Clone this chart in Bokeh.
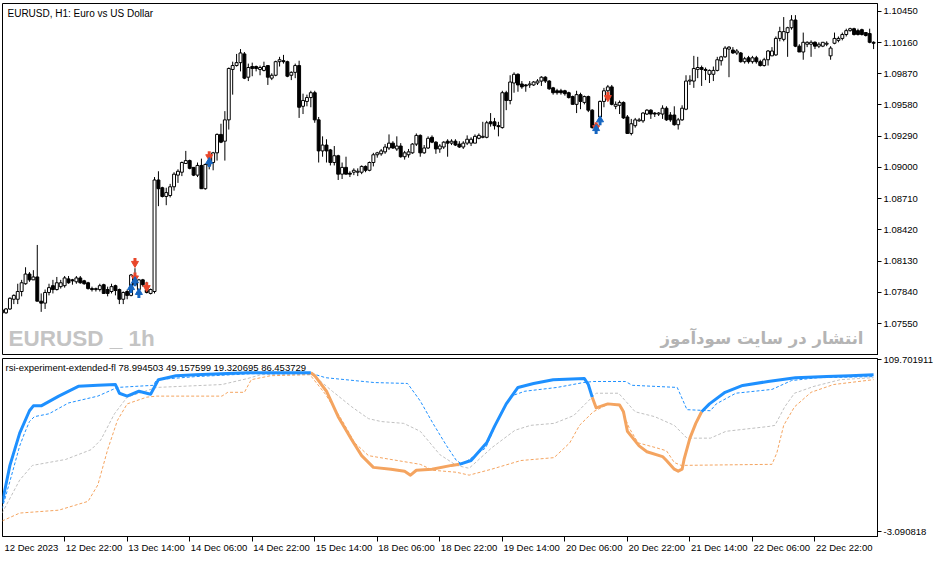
from bokeh.plotting import figure
from bokeh.layouts import column
from bokeh.models import Range1d, FixedTicker, PrintfTickFormatter, Label, ColumnDataSource, LinearAxis
from bokeh.embed import file_html
from bokeh.resources import INLINE

# ---------------- price data (EURUSD H1, bars 0..223) ----------------
open_ = [1.07651,1.07651,1.07687,1.07777,1.07777,1.07849,1.07921,1.08011,1.07957,1.07984,
 1.07759,1.07741,1.07840,1.07903,1.07867,1.07894,1.07903,1.07966,1.07957,1.07939,
 1.07975,1.07948,1.07930,1.07876,1.07867,1.07867,1.07912,1.07867,1.07849,1.07903,
 1.07867,1.07777,1.07849,1.07813,1.07912,1.07867,1.07957,1.07867,1.07831,1.07849,
 1.08884,1.08812,1.08731,1.08740,1.08821,1.08929,1.08956,1.09037,1.09064,1.09001,
 1.08929,1.09019,1.08803,1.09019,1.09046,1.09136,1.09307,1.09244,1.09442,1.09910,
 1.09946,1.09973,1.10054,1.09838,1.09937,1.09937,1.09910,1.09901,1.09946,1.09829,
 1.09856,1.09982,1.09991,1.09982,1.09856,1.09883,1.09946,1.09568,1.09613,1.09649,
 1.09694,1.09442,1.09154,1.09208,1.09163,1.09046,1.09109,1.08938,1.09001,1.08947,
 1.08956,1.08956,1.08956,1.09010,1.08974,1.09046,1.09118,1.09127,1.09145,1.09181,
 1.09226,1.09172,1.09199,1.09100,1.09118,1.09136,1.09217,1.09298,1.09136,1.09181,
 1.09280,1.09235,1.09172,1.09190,1.09244,1.09226,1.09244,1.09217,1.09190,1.09226,
 1.09226,1.09226,1.09271,1.09280,1.09280,1.09424,1.09424,1.09388,1.09370,1.09694,
 1.09622,1.09784,1.09865,1.09775,1.09766,1.09766,1.09766,1.09784,1.09802,1.09838,
 1.09802,1.09739,1.09712,1.09712,1.09712,1.09694,1.09658,1.09586,1.09676,1.09604,
 1.09658,1.09532,1.09361,1.09469,1.09613,1.09712,1.09748,1.09568,1.09577,1.09604,
 1.09469,1.09316,1.09388,1.09433,1.09433,1.09496,1.09532,1.09505,1.09496,1.09496,
 1.09550,1.09487,1.09487,1.09397,1.09442,1.09541,1.09802,1.09802,1.09910,1.09928,
 1.09910,1.09865,1.09865,1.09901,1.09991,1.10027,1.10099,1.10090,1.10063,1.10063,
 1.09982,1.10018,1.09982,1.10018,1.09982,1.09946,1.10000,1.10036,1.10045,1.10198,
 1.10189,1.10252,1.10297,1.10369,1.10126,1.10072,1.10144,1.10144,1.10162,1.10126,
 1.10126,1.10144,1.10036,1.10153,1.10180,1.10198,1.10234,1.10270,1.10288,1.10270,
 1.10279,1.10252,1.10243,1.10162]
high_ = [1.07687,1.07696,1.07795,1.07822,1.07921,1.07957,1.08074,1.08029,1.08047,1.08281,
 1.07831,1.07867,1.07921,1.07957,1.07984,1.07957,1.07993,1.07993,1.07966,1.07993,
 1.07993,1.07957,1.07939,1.07894,1.07885,1.07921,1.07921,1.07894,1.07921,1.07912,
 1.07876,1.07849,1.07867,1.08011,1.08065,1.07966,1.07966,1.07939,1.07876,1.08911,
 1.08965,1.08821,1.08812,1.08848,1.08956,1.08983,1.09055,1.09154,1.09073,1.09001,
 1.09046,1.09082,1.09037,1.09064,1.09145,1.09316,1.09406,1.09523,1.09928,1.09982,
 1.10054,1.10099,1.10072,1.09964,1.09973,1.09946,1.09946,1.09982,1.09946,1.09874,
 1.09991,1.10027,1.10045,1.09991,1.09892,1.09964,1.09991,1.09685,1.09676,1.09712,
 1.09712,1.09469,1.09289,1.09262,1.09172,1.09199,1.09118,1.09046,1.09100,1.08965,
 1.08992,1.08992,1.09019,1.09019,1.09055,1.09136,1.09145,1.09172,1.09217,1.09307,
 1.09244,1.09289,1.09226,1.09154,1.09172,1.09226,1.09316,1.09307,1.09208,1.09289,
 1.09298,1.09244,1.09217,1.09244,1.09262,1.09262,1.09262,1.09244,1.09244,1.09298,
 1.09280,1.09307,1.09316,1.09424,1.09433,1.09505,1.09460,1.09424,1.09712,1.09712,
 1.09856,1.09883,1.09874,1.09802,1.09775,1.09802,1.09802,1.09820,1.09847,1.09847,
 1.09811,1.09748,1.09730,1.09730,1.09721,1.09703,1.09667,1.09712,1.09694,1.09667,
 1.09667,1.09541,1.09406,1.09622,1.09739,1.09766,1.09766,1.09613,1.09622,1.09613,
 1.09487,1.09451,1.09460,1.09460,1.09514,1.09541,1.09541,1.09514,1.09514,1.09577,
 1.09568,1.09514,1.09568,1.09460,1.09577,1.09856,1.09856,1.10036,1.10027,1.09946,
 1.09928,1.09910,1.09937,1.10027,1.10036,1.10126,1.10126,1.10117,1.10099,1.10072,
 1.10027,1.10036,1.10036,1.10036,1.10000,1.10018,1.10090,1.10117,1.10216,1.10306,
 1.10396,1.10306,1.10414,1.10414,1.10144,1.10252,1.10171,1.10180,1.10171,1.10162,
 1.10162,1.10171,1.10126,1.10252,1.10216,1.10252,1.10288,1.10297,1.10297,1.10288,
 1.10288,1.10252,1.10288,1.10171]
low_ = [1.07642,1.07642,1.07678,1.07732,1.07732,1.07804,1.07912,1.07939,1.07957,1.07759,
 1.07660,1.07687,1.07813,1.07831,1.07858,1.07876,1.07885,1.07921,1.07912,1.07921,
 1.07921,1.07912,1.07867,1.07849,1.07849,1.07849,1.07831,1.07804,1.07831,1.07813,
 1.07732,1.07732,1.07777,1.07804,1.07903,1.07831,1.07894,1.07831,1.07822,1.07831,
 1.08641,1.08722,1.08650,1.08722,1.08785,1.08857,1.08920,1.09037,1.08983,1.08920,
 1.08911,1.08803,1.08794,1.08983,1.08974,1.09064,1.09226,1.09064,1.09352,1.09676,
 1.09937,1.09892,1.09820,1.09802,1.09847,1.09892,1.09856,1.09892,1.09766,1.09811,
 1.09847,1.09937,1.09964,1.09838,1.09811,1.09829,1.09460,1.09496,1.09568,1.09559,
 1.09415,1.09046,1.09100,1.09046,1.09019,1.09019,1.08884,1.08893,1.08938,1.08911,
 1.08929,1.08920,1.08938,1.08956,1.08965,1.09010,1.09091,1.09109,1.09127,1.09163,
 1.09172,1.09154,1.09091,1.09073,1.09091,1.09127,1.09199,1.09100,1.09127,1.09172,
 1.09226,1.09127,1.09136,1.09172,1.09100,1.09208,1.09199,1.09181,1.09172,1.09208,
 1.09199,1.09226,1.09262,1.09271,1.09271,1.09379,1.09352,1.09289,1.09361,1.09532,
 1.09586,1.09694,1.09703,1.09730,1.09703,1.09739,1.09757,1.09766,1.09757,1.09784,
 1.09721,1.09676,1.09676,1.09676,1.09667,1.09640,1.09586,1.09505,1.09541,1.09586,
 1.09514,1.09361,1.09343,1.09451,1.09559,1.09649,1.09577,1.09541,1.09496,1.09451,
 1.09316,1.09298,1.09370,1.09424,1.09415,1.09487,1.09451,1.09469,1.09478,1.09451,
 1.09433,1.09424,1.09388,1.09352,1.09433,1.09532,1.09766,1.09739,1.09829,1.09757,
 1.09811,1.09784,1.09802,1.09892,1.09946,1.10018,1.09838,1.10054,1.10045,1.09973,
 1.09964,1.09964,1.09964,1.09964,1.09937,1.09937,1.09946,1.10036,1.10036,1.10171,
 1.10171,1.10027,1.10279,1.10117,1.10072,1.10000,1.10117,1.10027,1.10099,1.10108,
 1.10117,1.10126,1.10000,1.10144,1.10162,1.10180,1.10216,1.10261,1.10225,1.10225,
 1.10225,1.10216,1.10153,1.10099]
close_ = [1.07678,1.07687,1.07786,1.07813,1.07849,1.07930,1.08011,1.07957,1.07984,1.07759,
 1.07741,1.07840,1.07885,1.07867,1.07930,1.07930,1.07975,1.07930,1.07948,1.07975,
 1.07930,1.07921,1.07876,1.07867,1.07876,1.07903,1.07831,1.07831,1.07894,1.07858,
 1.07777,1.07840,1.07813,1.08002,1.07984,1.07957,1.07912,1.07840,1.07867,1.08884,
 1.08803,1.08731,1.08767,1.08821,1.08938,1.08965,1.09046,1.09064,1.08992,1.08929,
 1.09019,1.08803,1.09028,1.09046,1.09136,1.09307,1.09235,1.09442,1.09919,1.09946,
 1.09973,1.10063,1.09829,1.09928,1.09919,1.09919,1.09928,1.09937,1.09838,1.09856,
 1.09982,1.10000,1.09982,1.09847,1.09883,1.09946,1.09559,1.09622,1.09649,1.09694,
 1.09442,1.09154,1.09208,1.09154,1.09046,1.09109,1.08938,1.09001,1.08938,1.08938,
 1.08974,1.08965,1.09010,1.08974,1.09046,1.09118,1.09136,1.09154,1.09190,1.09226,
 1.09181,1.09199,1.09100,1.09136,1.09145,1.09217,1.09298,1.09136,1.09181,1.09271,
 1.09235,1.09172,1.09199,1.09235,1.09226,1.09244,1.09208,1.09190,1.09226,1.09262,
 1.09262,1.09289,1.09298,1.09289,1.09415,1.09406,1.09388,1.09379,1.09694,1.09622,
 1.09793,1.09865,1.09766,1.09748,1.09757,1.09775,1.09793,1.09802,1.09838,1.09802,
 1.09730,1.09694,1.09694,1.09694,1.09685,1.09649,1.09586,1.09676,1.09613,1.09658,
 1.09532,1.09370,1.09397,1.09613,1.09712,1.09748,1.09586,1.09586,1.09604,1.09460,
 1.09316,1.09406,1.09442,1.09442,1.09505,1.09532,1.09496,1.09496,1.09505,1.09550,
 1.09442,1.09442,1.09397,1.09442,1.09550,1.09802,1.09811,1.09919,1.09928,1.09910,
 1.09901,1.09901,1.09901,1.10000,1.10027,1.10108,1.10117,1.10063,1.10081,1.09982,
 1.10009,1.09982,1.10018,1.09982,1.09946,1.10000,1.10081,1.10081,1.10198,1.10261,
 1.10261,1.10297,1.10369,1.10126,1.10072,1.10162,1.10162,1.10162,1.10126,1.10144,
 1.10162,1.10153,1.10108,1.10198,1.10198,1.10234,1.10270,1.10288,1.10234,1.10234,
 1.10234,1.10225,1.10162,1.10153]

price_ticks = [1.07550, 1.07840, 1.08130, 1.08420, 1.08710, 1.09000,
               1.09290, 1.09580, 1.09870, 1.10160, 1.10450]

# signal arrows
sell_i = [34, 34, 37, 53, 152, 155]
sell_p = [1.08119, 1.07984, 1.07894, 1.09109, 1.09379, 1.09658]
buy_i = [33, 34, 35, 53, 152, 153]
buy_p = [1.07876, 1.07939, 1.07831, 1.09046, 1.09352, 1.09433]

# time axis
time_ticks = [0, 16, 32, 48, 64, 80, 96, 112, 128, 144, 160, 176, 192, 208]
time_labels = ["12 Dec 2023", "12 Dec 22:00", "13 Dec 14:00", "14 Dec 06:00",
               "14 Dec 22:00", "15 Dec 14:00", "18 Dec 06:00", "18 Dec 22:00",
               "19 Dec 14:00", "20 Dec 06:00", "20 Dec 22:00", "21 Dec 14:00",
               "22 Dec 06:00", "22 Dec 22:00"]

# ---------------- indicator data ----------------
main_i = [0,2,4.5,7,8,10,14.5,19.5,24.5,29,30,32,35,38,40,44.5,49.5,56,63,79,
          80,83,86,89.5,92,95,99.5,103,104.5,106,110,115,117,120,124,126,129,132,136,141,
          149,150,151,152,155,158,159,160,163,165,169,170,172,173,174,174.5,176,177.5,179,181,
          185,189.5,196,203,211,217,223]
main_v = [15.5,40.4,61.6,76.3,79.5,79.5,85.9,92.3,93.0,93.5,87.8,85.9,89.1,87.1,96.7,99.3,100.0,100.6,101.2,101.2,
          99.3,89.1,72.4,57.1,46.8,39.1,37.9,36.6,34.0,37.2,37.9,40.4,41.1,43.6,55.2,66.0,80.8,91.6,94.2,96.7,
          97.4,93.5,85.2,78.2,80.8,80.1,75.6,62.8,53.2,49.4,46.2,43.6,37.9,36.6,37.9,44.3,58.3,68.0,75.6,80.8,
          88.4,92.9,95.5,98.0,98.7,99.3,100.0]
# colour regime of the main line: (start bar, state)
main_regime = [(0, "up"), (79, "down"), (117, "up"), (151, "down"), (179, "up")]

bd_i = [0,2,4.5,5.75,7,8.25,12,17,24.5,29.5,38.75,39.5,49.5,63.75,79.5,82.75,95.25,103.75,107,110.25,
        113.75,116.25,117.75,123.75,127.75,130.25,133.75,142,148.75,151.25,159.5,161.25,172.75,175.25,181.25,
        182.75,187.75,197,202,208.75,223]
bd_v = [12.0,30.0,53.2,61.6,69.2,72.4,74.3,81.4,85.9,91.6,93.0,96.7,98.7,100.6,100.6,98.0,94.8,94.2,82.7,68.0,
        53.2,43.6,41.1,51.9,75.6,85.9,89.1,91.6,94.8,95.5,95.5,93.0,91.6,77.0,76.3,
        80.8,87.8,90.3,96.1,98.0,98.7]

g_i = [0,4.5,7.75,16.25,22.75,25.25,28.75,32,39.5,56.25,62.75,66.25,79.5,84.5,89.5,93.75,97,102.75,107,112,
       116.25,119.5,122,125.25,131.25,135.25,141.25,146.25,150,152,157.75,162,167,172,175.25,181.25,185.25,
       196.25,197.75,200.25,202.75,207.75,214.5,223]
g_v = [9.1,30.8,40.4,44.3,50.7,57.1,74.3,85.2,91.6,93.5,97.4,100.0,100.0,89.1,78.8,71.1,69.2,68.0,62.8,47.5,
       40.4,38.5,44.3,51.9,63.5,66.7,68.0,73.1,82.7,87.8,87.8,75.6,72.4,66.7,58.3,58.3,62.8,
       66.0,66.7,78.8,87.8,92.3,96.7,98.0]

od_i = [0,4.5,14.5,22,24.5,27,29.5,32,37,39.5,56.25,57.75,62,63.75,68.75,78.75,82.75,87,90.25,93.75,
        99.5,107,110.25,116.25,119.5,125.25,132.75,141.25,145.25,147.75,151.25,155,158,160.5,162.75,167.5,
        170,172,173.75,197,198.25,200,202.75,207,212.75,223]
od_v = [3.9,9.1,11.0,16.8,27.6,50.7,69.9,80.8,85.2,85.9,85.9,88.4,88.4,96.7,99.3,100.0,87.1,69.9,55.2,46.8,
        44.3,41.1,37.2,35.9,34.0,37.9,43.6,45.5,55.2,66.7,75.6,80.5,80.5,64.8,55.2,51.9,
        50.0,42.3,40.4,41.1,48.7,66.7,78.8,88.4,93.5,96.7]

ind_ticks = [-3.090818, 109.701911]
ind_header = "rsi-experiment-extended-fl 78.994503 49.157599 19.320695 86.453729"

# ---------------- styling ----------------
W = 935
RB = 57
FONT = "Liberation Sans"
BLUE = "#1E90FF"
ORANGE = "#F4A460"
GRAY = "#C0C0C0"
SELL_COL = "#E8462A"
BUY_COL = "#1565C0"
LABEL_SHIFT = 7.5   # horizontal shift (bars) so a date label starts at its tick
P1_FRAME_H = 352

x_range = Range1d(0.1, 224.0)
p1_yr = Range1d(1.07255, 1.10522)
p2_yr = Range1d(-6.29, 110.6)
PX = (p1_yr.end - p1_yr.start) / P1_FRAME_H   # price per screen pixel (for arrow stems)


def style_fig(p):
    p.grid.visible = False
    p.outline_line_color = "black"
    p.outline_line_alpha = 1.0
    p.outline_line_width = 1
    p.background_fill_color = "white"
    p.border_fill_color = "white"


def style_axis(ax):
    ax.major_tick_out = 4
    ax.major_tick_in = 0
    ax.minor_tick_out = 0
    ax.minor_tick_in = 0
    ax.axis_line_color = "black"
    ax.major_tick_line_color = "black"
    ax.major_label_text_font = FONT
    ax.major_label_text_font_size = "9.5px"
    ax.major_label_text_color = "black"
    ax.major_label_standoff = 2


p1 = figure(width=W, height=P1_FRAME_H + 3, x_range=x_range, y_range=p1_yr,
            x_axis_location=None, y_axis_location="right",
            toolbar_location=None, output_backend="svg",
            min_border_left=2, min_border_right=RB, min_border_top=3, min_border_bottom=0)
style_fig(p1)
style_axis(p1.yaxis[0])
p1.yaxis.ticker = FixedTicker(ticks=price_ticks)
p1.yaxis.formatter = PrintfTickFormatter(format="%.5f")

idx = list(range(len(open_)))
src = ColumnDataSource(dict(
    x=idx, high=high_, low=low_,
    top=[max(o, c) for o, c in zip(open_, close_)],
    bottom=[min(o, c) for o, c in zip(open_, close_)],
    fill=["white" if c >= o else "black" for o, c in zip(open_, close_)],
))
p1.segment(x0="x", y0="low", x1="x", y1="high", source=src, line_color="black", line_width=1)
p1.vbar(x="x", width=0.75, top="top", bottom="bottom", fill_color="fill",
        line_color="black", line_width=1, source=src)

# fat arrows: triangle head + short stem
p1.rect(sell_i, [p + 2.5 * PX for p in sell_p], width=3, height=4,
        width_units="screen", height_units="screen", fill_color=SELL_COL, line_color=None)
p1.scatter(sell_i, [p - 1.0 * PX for p in sell_p], marker="inverted_triangle", size=7,
           fill_color=SELL_COL, line_color=SELL_COL)
p1.rect(buy_i, [p - 2.5 * PX for p in buy_p], width=3, height=4,
        width_units="screen", height_units="screen", fill_color=BUY_COL, line_color=None)
p1.scatter(buy_i, [p + 1.0 * PX for p in buy_p], marker="triangle", size=7,
           fill_color=BUY_COL, line_color=BUY_COL)

p1.add_layout(Label(x=0.1, y=p1_yr.end, x_offset=5, y_offset=-4,
                    text="EURUSD, H1:  Euro vs US Dollar", text_font=FONT,
                    text_font_size="10px", text_color="black",
                    text_baseline="top", text_align="left"))
p1.add_layout(Label(x=0.1, y=p1_yr.start, x_offset=6, y_offset=5,
                    text="EURUSD _ 1h", text_font=FONT,
                    text_font_style="bold", text_font_size="22.5px", text_color="#C4C4C4",
                    text_baseline="bottom", text_align="left"))
p1.add_layout(Label(x=x_range.end, y=p1_yr.start, x_offset=-14, y_offset=8,
                    text="انتشار در سایت سودآموز", text_font="DejaVu Sans",
                    text_font_style="bold", text_font_size="16.5px", text_color="#B4B4B4",
                    text_baseline="bottom", text_align="right"))

p2 = figure(width=W, height=201, x_range=x_range, y_range=p2_yr,
            y_axis_location="right", toolbar_location=None, output_backend="svg",
            min_border_left=2, min_border_right=RB, min_border_top=3, min_border_bottom=20)
style_fig(p2)
style_axis(p2.yaxis[0])
p2.yaxis.ticker = FixedTicker(ticks=ind_ticks)
p2.yaxis.formatter = PrintfTickFormatter(format="%.6f")

# tick marks of the time scale
xa = p2.xaxis[0]
style_axis(xa)
xa.ticker = FixedTicker(ticks=time_ticks)
xa.major_label_overrides = {t: "" for t in time_ticks}
xa.major_tick_out = 5
xa.major_label_text_font_size = "0px"
xa.major_label_standoff = 0

# date texts, left-aligned at their ticks
label_pos = [t + LABEL_SHIFT for t in time_ticks]
xl = LinearAxis(ticker=FixedTicker(ticks=label_pos),
                major_label_overrides={pos: lab for pos, lab in zip(label_pos, time_labels)})
style_axis(xl)
xl.axis_line_color = None
xl.major_tick_line_color = None
xl.major_tick_out = 0
xl.major_label_standoff = 0
p2.add_layout(xl, "below")

p2.line(g_i, g_v, line_color=GRAY, line_width=1, line_dash="3 2")
p2.line(od_i, od_v, line_color=ORANGE, line_width=1, line_dash="3 2")
p2.line(bd_i, bd_v, line_color=BLUE, line_width=1, line_dash="3 2")


def state_at(x):
    s = main_regime[0][1]
    for start, st in main_regime:
        if x >= start:
            s = st
    return s


runs = {"up": [], "down": []}
cur_state, cur_x, cur_y = None, [], []
for k in range(len(main_i) - 1):
    st = state_at(main_i[k])
    if st != cur_state:
        if cur_state is not None:
            runs[cur_state].append((cur_x, cur_y))
        cur_state, cur_x, cur_y = st, [main_i[k]], [main_v[k]]
    cur_x.append(main_i[k + 1])
    cur_y.append(main_v[k + 1])
runs[cur_state].append((cur_x, cur_y))

for st, col in (("down", ORANGE), ("up", BLUE)):
    if runs[st]:
        p2.multi_line([r[0] for r in runs[st]], [r[1] for r in runs[st]],
                      line_color=col, line_width=3, line_join="round")

p2.add_layout(Label(x=0.1, y=p2_yr.end, x_offset=3, y_offset=-3, text=ind_header,
                    text_font=FONT, text_font_size="9.5px", text_color="black",
                    text_baseline="top", text_align="left"))

layout = column(p1, p2)
open("out.html", "w").write(file_html(layout, INLINE, title="EURUSD H1"))
